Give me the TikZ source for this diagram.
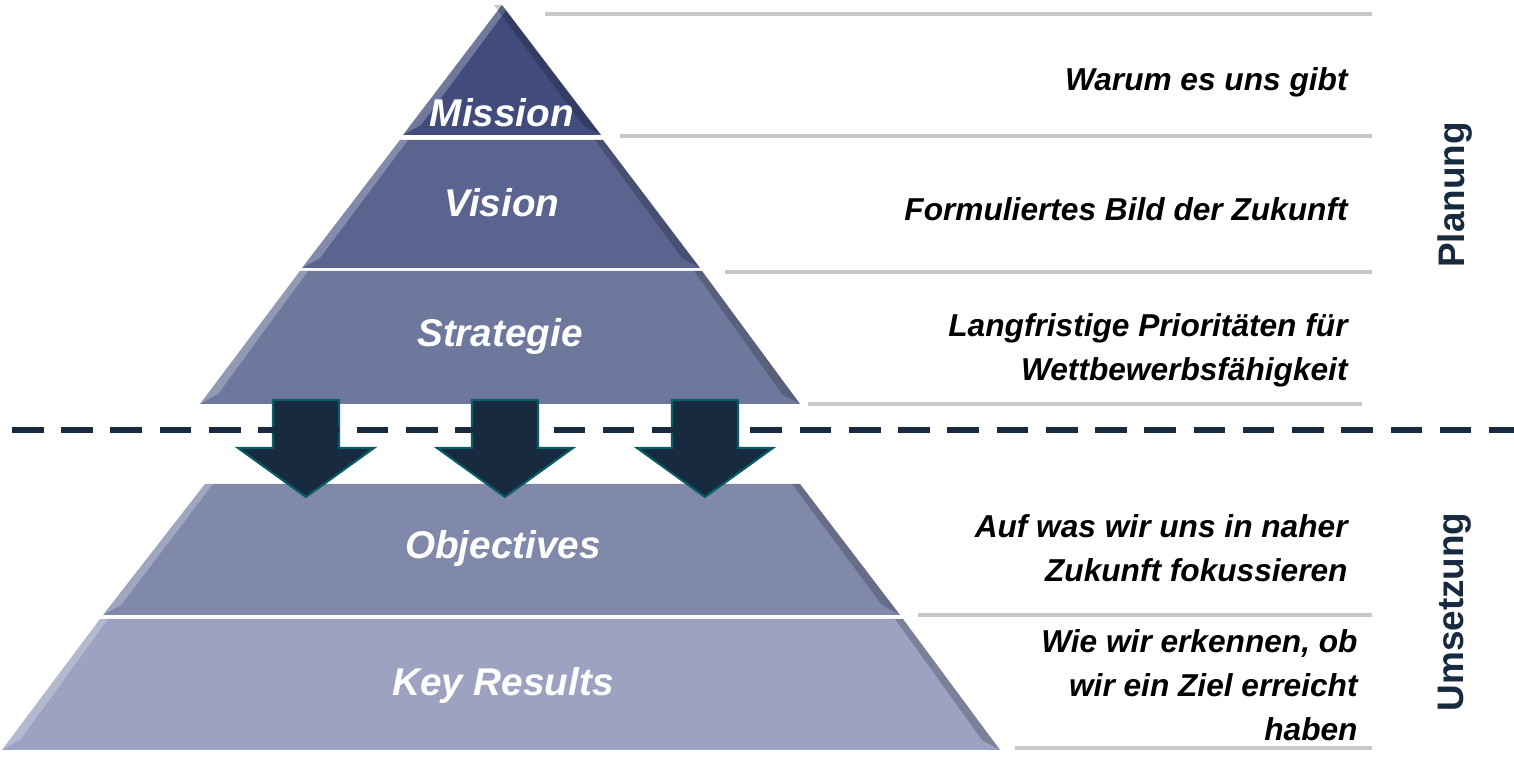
\documentclass[tikz,border=0pt]{standalone}
\usepackage{fontspec}
\setmainfont{Liberation Sans}
\usetikzlibrary{calc}
\definecolor{navy}{HTML}{172A40}
\definecolor{rulegrey}{HTML}{C8C8C8}
\definecolor{layA}{HTML}{414C7C}
\definecolor{layB}{HTML}{5A648F}
\definecolor{layC}{HTML}{6E789D}
\definecolor{layD}{HTML}{8189AB}
\definecolor{layE}{HTML}{9CA2C0}
\tikzset{
  layer label/.style={font=\bfseries\itshape\fontsize{11}{13}\selectfont,text=white},
  side text/.style={font=\bfseries\itshape\fontsize{9}{12.5}\selectfont,align=right,anchor=east},
  phase/.style={font=\bfseries\fontsize{10.5}{12}\selectfont,text=navy,rotate=90},
  guide/.style={rulegrey,line width=1.2pt},
  down arrow/.style={fill=navy,draw=teal!60!navy,line width=0.6pt}
}
\begin{document}
\begin{tikzpicture}[x=0.01cm,y=-0.01cm]
\useasboundingbox (0,0) rectangle (1514,762);
% pyramid layers: top left, top right, bottom right, bottom left
\foreach \tl/\tr/\ty/\bl/\br/\by/\col in {
    502/502/5/403/601/135/layA,
    400/603/140/302/700/268/layB,
    300/702/271/200/800/404/layC,
    205/800/484/103/900/615/layD,
    100/903/619/2/1000/750/layE} {
  \fill[\col] (\tl,\ty) -- (\tr,\ty) -- (\br,\by) -- (\bl,\by) -- cycle;
  \fill[white,opacity=0.25] (\tl,\ty) -- ($(\tl,\ty)+(8,0)$) -- ($(\bl,\by)+(18,-10)$) -- (\bl,\by) -- cycle;
  \fill[black,opacity=0.2] (\tr,\ty) -- ($(\tr,\ty)+(-8,0)$) -- ($(\br,\by)+(-18,-10)$) -- (\br,\by) -- cycle;
}
\node[layer label] (mission) at (502,113) {Mission};
\node[layer label] (vision) at (502,203) {Vision};
\node[layer label] (strategie) at (500,337) {Strategie};
\node[layer label] (objectives) at (503,549) {Objectives};
\node[layer label] (keyresults) at (503,686) {Key Results};
% down arrows
\foreach \x in {306,505,705}
  \draw[down arrow] (\x-33,400) -- (\x+33,400) -- (\x+33,448) -- (\x+68,448)
    -- (\x,497) -- (\x-68,448) -- (\x-33,448) -- cycle;
\draw[navy,dashed,line width=1.5pt,dash pattern=on 9pt off 5pt] (12,430) -- (1514,430);
% guide lines
\foreach \xa/\xb/\y in {545/1372/14,620/1372/136,725/1372/272,808/1362/404,918/1372/615,1015/1372/748}
  \draw[guide] (\xa,\y) -- (\xb,\y);
\node[side text] (warum) at (1360,82) {Warum es uns gibt};
\node[side text] (bild) at (1360,209) {Formuliertes Bild der Zukunft};
\node[side text] (prio) at (1360,350) {Langfristige Prioritäten für\\Wettbewerbsfähigkeit};
\node[side text] (fokus) at (1360,548) {Auf was wir uns in naher\\Zukunft fokussieren};
\node[side text] (ziel) at (1370,685) {Wie wir erkennen, ob\\wir ein Ziel erreicht\\haben};
\node[phase] (planung) at (1455,195) {Planung};
\node[phase] (umsetzung) at (1455,612) {Umsetzung};
\end{tikzpicture}
\end{document}
